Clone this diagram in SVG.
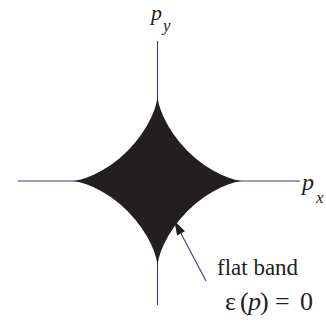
<svg xmlns="http://www.w3.org/2000/svg" width="326" height="325" viewBox="0 0 326 325">
<style>
.ax{stroke:#3d3585;stroke-width:1.1;fill:none}
.t{font-family:"Liberation Serif","Times New Roman",serif;fill:#231f20}
.i{font-style:italic}
</style>
<rect width="326" height="325" fill="#fff"/>
<g id="axes" class="ax">
<line x1="157.5" y1="41" x2="157.5" y2="305"/>
<line x1="18" y1="181" x2="300" y2="181"/>
</g>
<g id="fermi-surface">
<path fill="#231f20" d="M242.5,181 L241.53,180.94 238.69,180.56 234.10,179.53 228.03,177.60 220.78,174.58 212.71,170.37 204.22,164.96 195.71,158.43 187.55,150.95 180.07,142.79 173.54,134.28 168.13,125.79 163.92,117.72 160.90,110.47 158.97,104.40 157.94,99.81 157.56,96.97 157.5,96 157.44,96.97 157.06,99.81 156.03,104.40 154.10,110.47 151.08,117.72 146.87,125.79 141.46,134.28 134.93,142.79 127.45,150.95 119.29,158.43 110.78,164.96 102.29,170.37 94.22,174.58 86.97,177.60 80.90,179.53 76.31,180.56 73.47,180.94 72.5,181 73.47,181.06 76.31,181.44 80.90,182.47 86.97,184.40 94.22,187.42 102.29,191.63 110.78,197.04 119.29,203.57 127.45,211.05 134.93,219.21 141.46,227.72 146.87,236.21 151.08,244.28 154.10,251.53 156.03,257.60 157.06,262.19 157.44,265.03 157.5,266 157.56,265.03 157.94,262.19 158.97,257.60 160.90,251.53 163.92,244.28 168.13,236.21 173.54,227.72 180.07,219.21 187.55,211.05 195.71,203.57 204.22,197.04 212.71,191.63 220.78,187.42 228.03,184.40 234.10,182.47 238.69,181.44 241.53,181.06 Z"/>
</g>
<g id="connectors">
<line x1="206" y1="281" x2="181" y2="233.4" stroke="#3d3585" stroke-width="1.1"/>
<polygon points="174.5,221 177,235.5 185,231.3" fill="#231f20"/>
</g>
<g id="label-py">
<text class="t i" x="151" y="20" font-size="22">p</text>
<text class="t i" x="163" y="31" font-size="17">y</text>
</g>
<g id="label-px">
<text class="t i" x="302" y="190" font-size="24">p</text>
<text class="t i" x="316" y="203" font-size="17">x</text>
</g>
<g id="label-flat">
<text class="t" x="217" y="275" font-size="23">flat band</text>
<text class="t" y="310" font-size="26"><tspan x="225">ε</tspan><tspan x="240">(</tspan><tspan x="248" class="i">p</tspan><tspan x="260">)</tspan><tspan x="275">=</tspan><tspan x="300">0</tspan></text>
</g>
</svg>
